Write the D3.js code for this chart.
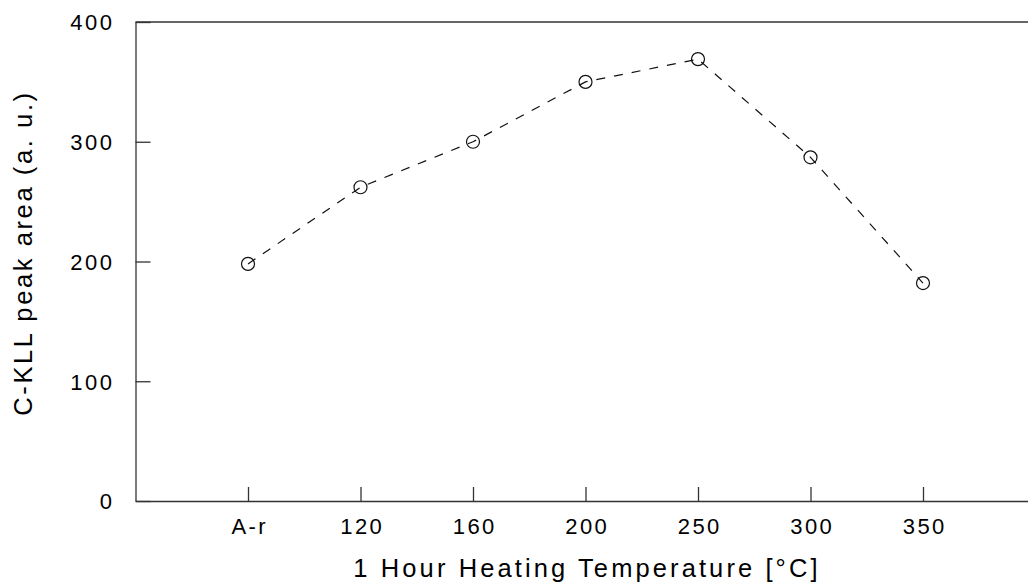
<!DOCTYPE html>
<html><head><meta charset="utf-8">
<script src="https://cdn.jsdelivr.net/npm/d3@7"></script>
<style>
html,body{margin:0;padding:0;background:#fff;}
svg{display:block;font-family:"Liberation Sans",Arial,sans-serif;}
</style></head>
<body>
<svg id="chart" width="1028" height="587"></svg>
<script>
const categories = ["A-r","120","160","200","250","300","350"];
const peakArea = [198, 262, 300, 350, 369, 287, 182];
const yTicks = [0, 100, 200, 300, 400];
const xTitle = "1 Hour Heating Temperature [°C]";
const yTitle = "C-KLL peak area (a. u.)";

const svg = d3.select("#chart");
const x = d3.scaleLinear().domain([-1, 7]).range([135.5, 1035.5]);
const y = d3.scaleLinear().domain([0, 400]).range([501, 22]);
const axisColor = "#333";

// top frame line
svg.append("line").attr("x1", x(-1)).attr("x2", 1028).attr("y1", y(400)).attr("y2", y(400))
  .attr("stroke", axisColor).attr("stroke-width", 1.3);

// y axis
const yAxis = svg.append("g").attr("transform", `translate(${x(-1)},0)`)
  .call(d3.axisLeft(y).tickValues(yTicks).tickSize(-15).tickPadding(0).tickSizeOuter(0));
yAxis.select(".domain").attr("stroke", axisColor).attr("stroke-width", 1.3);
yAxis.selectAll(".tick line").attr("stroke", axisColor).attr("stroke-width", 1.3);
yAxis.selectAll(".tick text").attr("x", -21).attr("dy", "0.36em")
  .attr("font-size", 22).attr("letter-spacing", 2.5).attr("fill", "#000")
  .attr("font-family", "Liberation Sans, Arial, sans-serif");

// x axis
const xAxis = svg.append("g").attr("transform", `translate(0,${y(0)})`)
  .call(d3.axisBottom(x).tickValues(d3.range(categories.length)).tickFormat(i => categories[i])
    .tickSize(-14).tickSizeOuter(0));
xAxis.select(".domain").attr("stroke", axisColor).attr("stroke-width", 1.3);
xAxis.selectAll(".tick line").attr("stroke", axisColor).attr("stroke-width", 1.3);
xAxis.selectAll(".tick text").attr("y", 33).attr("dy", 0).attr("dx", 1.2)
  .attr("font-size", 22).attr("letter-spacing", 2.4).attr("fill", "#000")
  .attr("font-family", "Liberation Sans, Arial, sans-serif");

// line
const line = d3.line().x((d, i) => x(i)).y(d => y(d));
svg.append("path").datum(peakArea).attr("d", line)
  .attr("fill", "none").attr("stroke", "#111").attr("stroke-width", 1.2)
  .attr("stroke-dasharray", "9,9");

// markers
svg.selectAll("circle.pt").data(peakArea).join("circle").attr("class", "pt")
  .attr("cx", (d, i) => x(i)).attr("cy", d => y(d)).attr("r", 6.5)
  .attr("fill", "none").attr("stroke", "#111").attr("stroke-width", 1.2);

// titles
svg.append("text").attr("x", 587).attr("y", 577).attr("text-anchor", "middle")
  .attr("font-size", 25.5).attr("letter-spacing", 3.1).attr("fill", "#000").text(xTitle);
svg.append("text").attr("transform", "translate(32,253) rotate(-90)").attr("text-anchor", "middle")
  .attr("font-size", 25.5).attr("letter-spacing", 2.6).attr("fill", "#000").text(yTitle);
</script>
</body></html>
